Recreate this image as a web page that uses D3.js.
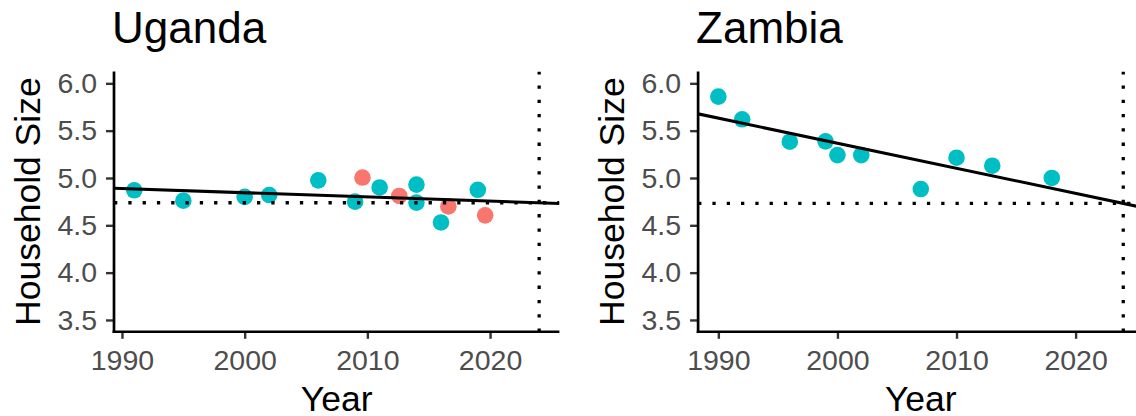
<!DOCTYPE html>
<html>
<head>
<meta charset="utf-8">
<script src="https://cdn.jsdelivr.net/npm/d3@7"></script>
<style>
  html, body { margin: 0; padding: 0; background: #ffffff; }
  svg { display: block; font-family: "Liberation Sans", Arial, Helvetica, sans-serif; }
</style>
</head>
<body>
<svg id="chart" width="1136" height="416"></svg>
<script>
// Household size by survey year, two countries
const countries = ["Uganda", "Zambia"];

// survey type levels (first level red, second teal)
const groupLevels = ["Type 1", "Type 2"];
const groupColors = ["#F8766D", "#00BFC4"];

const ugandaYears = [1991, 1995, 2000, 2002, 2006, 2009, 2011, 2014, 2014, 2016, 2019, 2009.6, 2012.6, 2016.6, 2019.6];
const ugandaSize  = [4.87, 4.76, 4.80, 4.82, 4.975, 4.75, 4.90, 4.93, 4.74, 4.53, 4.875, 5.005, 4.81, 4.70, 4.605];
const ugandaGroup = ["Type 2", "Type 2", "Type 2", "Type 2", "Type 2", "Type 2", "Type 2", "Type 2", "Type 2", "Type 2", "Type 2", "Type 1", "Type 1", "Type 1", "Type 1"];

const zambiaYears = [1990, 1992, 1996, 1999, 2000, 2002, 2007, 2010, 2013, 2018];
const zambiaSize  = [5.86, 5.62, 5.383, 5.387, 5.242, 5.242, 4.883, 5.214, 5.13, 5.0];
const zambiaGroup = ["Type 2", "Type 2", "Type 2", "Type 2", "Type 2", "Type 2", "Type 2", "Type 2", "Type 2", "Type 2"];

// projection year marked by the vertical dotted line
const targetYear = 2024;

const yTicks = [3.5, 4.0, 4.5, 5.0, 5.5, 6.0];
const xTicks = [1990, 2000, 2010, 2020];
const yLimits = [3.5, 6.0];

const seriesByCountry = {
  Uganda: { years: ugandaYears, size: ugandaSize, group: ugandaGroup },
  Zambia: { years: zambiaYears, size: zambiaSize, group: zambiaGroup }
};

// layout
const panelTop = 71.5, panelBottom = 331.8;
const panelLeft = [114, 698.1];
const panelWidth = 445.4;
const fontTick = 28.5, fontAxisTitle = 35.5, fontTitle = 44;

const svg = d3.select("#chart");
svg.append("rect").attr("width", 1136).attr("height", 416).attr("fill", "#ffffff");

const color = d3.scaleOrdinal().domain(groupLevels).range(groupColors);

function expand(lo, hi, frac) {
  const d = (hi - lo) * frac;
  return [lo - d, hi + d];
}

// ordinary least squares fit
function linearFit(xs, ys) {
  const mx = d3.mean(xs), my = d3.mean(ys);
  let sxy = 0, sxx = 0;
  xs.forEach((x, i) => { sxy += (x - mx) * (ys[i] - my); sxx += (x - mx) * (x - mx); });
  const slope = sxy / sxx;
  return x => my + slope * (x - mx);
}

countries.forEach((name, idx) => {
  const s = seriesByCountry[name];
  const data = s.years.map((y, i) => ({ year: y, size: s.size[i], group: s.group[i] }));
  const x0 = panelLeft[idx], x1 = x0 + panelWidth;

  const xExt = d3.extent(s.years.concat([targetYear]));
  const x = d3.scaleLinear().domain(expand(xExt[0], xExt[1], 0.05)).range([x0, x1]);
  const y = d3.scaleLinear().domain(expand(yLimits[0], yLimits[1], 0.05)).range([panelBottom, panelTop]);

  const fit = linearFit(s.years, s.size);
  const refLevel = fit(targetYear);

  const clipId = "clip-" + idx;
  svg.append("clipPath").attr("id", clipId)
    .append("rect").attr("x", x0).attr("y", panelTop).attr("width", panelWidth).attr("height", panelBottom - panelTop);

  const g = svg.append("g");
  const plot = g.append("g").attr("clip-path", `url(#${clipId})`);

  // points
  plot.selectAll("circle").data(data).join("circle")
    .attr("cx", d => x(d.year))
    .attr("cy", d => y(d.size))
    .attr("r", 8.3)
    .attr("fill", d => color(d.group));

  // trend line over the full x range
  const xd = x.domain();
  plot.append("line")
    .attr("x1", x(xd[0])).attr("y1", y(fit(xd[0])))
    .attr("x2", x(xd[1])).attr("y2", y(fit(xd[1])))
    .attr("stroke", "#000").attr("stroke-width", 3.1);

  // horizontal reference at the projected level
  plot.append("line")
    .attr("x1", x0).attr("x2", x1)
    .attr("y1", y(refLevel)).attr("y2", y(refLevel))
    .attr("stroke", "#000").attr("stroke-width", 3.3)
    .attr("stroke-dasharray", "3.3 11");

  // vertical reference at the projection year, drawn bottom to top
  plot.append("line")
    .attr("x1", x(targetYear)).attr("x2", x(targetYear))
    .attr("y1", panelBottom).attr("y2", panelTop)
    .attr("stroke", "#000").attr("stroke-width", 3.3)
    .attr("stroke-dasharray", "3.3 11");

  // axes
  const yAxis = d3.axisLeft(y).tickValues(yTicks).tickFormat(d3.format(".1f"))
    .tickSize(8).tickSizeOuter(0).tickPadding(9);
  const gy = g.append("g").attr("transform", `translate(${x0},0)`).call(yAxis);
  gy.select(".domain").remove();
  gy.selectAll(".tick line").attr("stroke", "#333333").attr("stroke-width", 2.4);
  gy.selectAll(".tick text").attr("fill", "#4D4D4D").style("font-size", fontTick + "px")
    .style("font-family", "'Liberation Sans', Arial, sans-serif");

  const xAxis = d3.axisBottom(x).tickValues(xTicks).tickFormat(d3.format("d"))
    .tickSize(7).tickSizeOuter(0).tickPadding(10.5);
  const gx = g.append("g").attr("transform", `translate(0,${panelBottom})`).call(xAxis);
  gx.select(".domain").remove();
  gx.selectAll(".tick line").attr("stroke", "#333333").attr("stroke-width", 2.4);
  gx.selectAll(".tick text").attr("fill", "#4D4D4D").style("font-size", fontTick + "px")
    .style("font-family", "'Liberation Sans', Arial, sans-serif");

  // axis lines
  g.append("line").attr("x1", x0).attr("x2", x0).attr("y1", panelTop).attr("y2", panelBottom + 1.3)
    .attr("stroke", "#000").attr("stroke-width", 2.7);
  g.append("line").attr("x1", x0 - 1.35).attr("x2", x1).attr("y1", panelBottom).attr("y2", panelBottom)
    .attr("stroke", "#000").attr("stroke-width", 2.6);

  // titles
  g.append("text").attr("x", x0 - 2).attr("y", 43)
    .style("font-size", fontTitle + "px").attr("fill", "#000").text(name);

  g.append("text").attr("x", (x0 + x1) / 2).attr("y", 411)
    .attr("text-anchor", "middle").style("font-size", fontAxisTitle + "px").attr("fill", "#000").text("Year");

  g.append("text")
    .attr("transform", `translate(${x0 - 74},${(panelTop + panelBottom) / 2}) rotate(-90)`)
    .attr("text-anchor", "middle").style("font-size", fontAxisTitle + "px").attr("fill", "#000")
    .text("Household Size");
});
</script>
</body>
</html>
